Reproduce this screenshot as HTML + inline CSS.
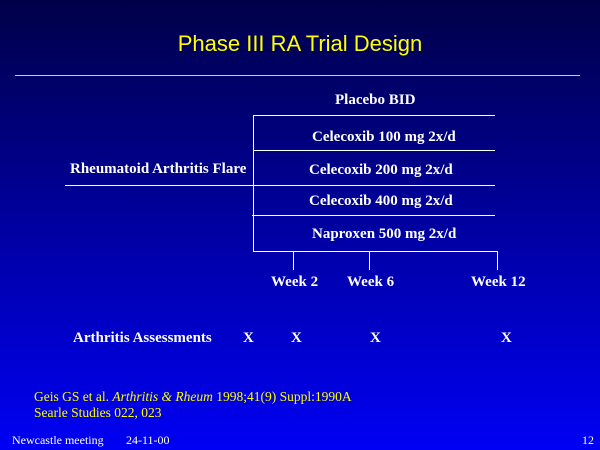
<!DOCTYPE html>
<html><head><style>
body{margin:0}
#s{position:relative;width:600px;height:450px;overflow:hidden;background:linear-gradient(#000048,#0000a8 55%,#0000f4);font-family:"Liberation Serif",serif;color:#fff}
.t{position:absolute;white-space:nowrap;font-weight:bold;font-size:15px;line-height:1}
.l{position:absolute;background:#fff}
</style></head><body><div id="s">
<div style="position:absolute;left:0;width:600px;top:31px;text-align:center;color:#ffff00;font-family:'Liberation Sans',sans-serif;font-size:22px">Phase III RA Trial Design</div>
<div class="l" style="left:15px;top:75px;width:565px;height:1px;background:#ccc"></div>
<div class="l" style="left:253px;top:115px;width:242px;height:1px"></div>
<div class="l" style="left:253px;top:150px;width:242px;height:1px"></div>
<div class="l" style="left:65px;top:185px;width:430px;height:1px"></div>
<div class="l" style="left:252px;top:215px;width:243px;height:1px"></div>
<div class="l" style="left:253px;top:251px;width:244px;height:1px"></div>
<div class="l" style="left:253px;top:115px;width:1px;height:136px"></div>
<div class="l" style="left:293px;top:251px;width:1px;height:19px"></div>
<div class="l" style="left:369px;top:251px;width:1px;height:19px"></div>
<div class="l" style="left:497px;top:251px;width:1px;height:19px"></div>
<div class="t" style="left:335px;top:93px">Placebo BID</div>
<div class="t" style="left:312px;top:130px">Celecoxib 100 mg 2x/d</div>
<div class="t" style="left:309px;top:163px">Celecoxib 200 mg 2x/d</div>
<div class="t" style="left:309px;top:194px">Celecoxib 400 mg 2x/d</div>
<div class="t" style="left:312px;top:227px">Naproxen 500 mg 2x/d</div>
<div class="t" style="left:70px;top:162px">Rheumatoid Arthritis Flare</div>
<div class="t" style="left:271px;top:275px">Week 2</div>
<div class="t" style="left:347px;top:275px">Week 6</div>
<div class="t" style="left:471px;top:275px">Week 12</div>
<div class="t" style="left:73px;top:331px">Arthritis Assessments</div>
<div class="t" style="left:243px;top:331px">X</div>
<div class="t" style="left:291px;top:331px">X</div>
<div class="t" style="left:370px;top:331px">X</div>
<div class="t" style="left:501px;top:331px">X</div>
<div class="t" style="left:34px;top:390px;font-weight:normal;font-size:13.5px;color:#ffff00">Geis GS et al. <i>Arthritis &amp; Rheum</i> 1998;41(9) Suppl:1990A</div>
<div class="t" style="left:34px;top:406px;font-weight:normal;font-size:13.5px;color:#ffff00">Searle Studies 022, 023</div>
<div class="t" style="left:12px;top:434px;font-weight:normal;font-size:12px">Newcastle meeting</div>
<div class="t" style="left:126px;top:434px;font-weight:normal;font-size:12px">24-11-00</div>
<div class="t" style="left:582px;top:434px;font-weight:normal;font-size:12px">12</div>
</div></body></html>
